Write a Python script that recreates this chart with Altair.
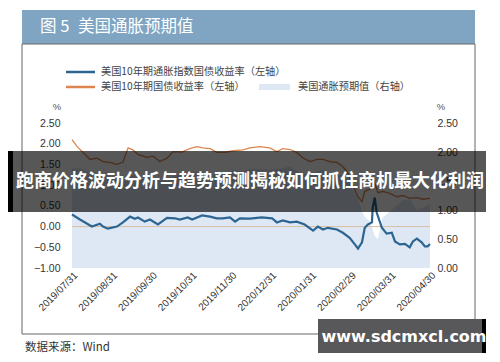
import altair as alt
import pandas as pd

# ---------------- data ----------------
x_labels = ["2019/07/31", "2019/08/31", "2019/09/30", "2019/10/31", "2019/11/30",
            "2020/12/31", "2020/01/31", "2020/02/29", "2020/03/31", "2020/04/30"]

# month index (0 = 2019/07/31 ... 9 = 2020/04/30)
tips_t = [0, 0.2, 0.5, 0.7, 0.78, 0.9, 1.13, 1.28, 1.46, 1.58, 1.66, 1.83, 1.96, 2.16, 2.39,
          2.59, 2.71, 2.91, 3.02, 3.27, 3.47, 3.64, 3.79, 3.97, 4.1, 4.22, 4.47, 4.77, 5.03,
          5.15, 5.3, 5.48, 5.65, 5.85, 6.06, 6.18, 6.31, 6.43, 6.66, 6.81, 6.98, 7.11, 7.19,
          7.29, 7.36, 7.44, 7.54, 7.56, 7.61, 7.66, 7.79, 7.91, 8.04, 8.12, 8.24, 8.37, 8.49,
          8.57, 8.67, 8.79, 8.87, 8.94, 9.0]
tips_v = [0.29, 0.17, 0.0, 0.07, 0.0, -0.05, 0.0, 0.1, 0.24, 0.19, 0.22, 0.12, 0.17, 0.05, 0.21,
          0.2, 0.17, 0.22, 0.17, 0.27, 0.24, 0.2, 0.2, 0.22, 0.12, 0.2, 0.19, 0.22, 0.2,
          0.1, 0.15, 0.1, 0.12, 0.05, -0.1, 0.0, -0.07, -0.03, -0.07, -0.15, -0.27, -0.43, -0.53,
          -0.38, -0.03, 0.05, 0.1, 0.46, 0.7, 0.34, -0.03, -0.17, -0.15, -0.36, -0.43, -0.42, -0.5,
          -0.36, -0.29, -0.38, -0.48, -0.48, -0.42]

nom_t = [0, 0.13, 0.28, 0.45, 0.63, 0.78, 0.95, 1.13, 1.28, 1.41, 1.53, 1.66, 1.88, 2.04, 2.21,
         2.39, 2.54, 2.76, 2.96, 3.14, 3.29, 3.47, 3.64, 3.89, 4.05, 4.3, 4.47, 4.72, 4.97,
         5.15, 5.3, 5.48, 5.65, 5.8, 5.98, 6.16, 6.31, 6.48, 6.66, 6.81, 6.91, 7.06, 7.19,
         7.29, 7.36, 7.49, 7.61, 7.69, 7.81, 7.99, 8.17, 8.32, 8.49, 8.67, 8.82, 9.0]
nom_v = [2.1, 1.93, 1.79, 1.62, 1.65, 1.57, 1.55, 1.5, 1.55, 1.9, 1.85, 1.74, 1.67, 1.7, 1.57,
         1.65, 1.81, 1.8, 1.88, 1.93, 1.9, 1.88, 1.79, 1.8, 1.83, 1.85, 1.9, 1.93, 1.9,
         1.81, 1.88, 1.86, 1.79, 1.66, 1.57, 1.62, 1.62, 1.57, 1.55, 1.45, 1.33, 1.0, 0.72,
         0.6, 0.85, 0.9, 1.05, 0.82, 0.85, 0.8, 0.72, 0.75, 0.68, 0.7, 0.66, 0.68]

be_t = [0, 0.2, 0.5, 0.78, 0.95, 1.13, 1.28, 1.46, 1.66, 1.88, 2.04, 2.21, 2.39, 2.59, 2.76,
        2.96, 3.14, 3.29, 3.47, 3.64, 3.89, 4.05, 4.3, 4.47, 4.72, 4.97, 5.15, 5.3, 5.48,
        5.65, 5.85, 6.06, 6.31, 6.48, 6.66, 6.81, 6.91, 7.06, 7.19, 7.29, 7.36, 7.49, 7.61,
        7.69, 7.81, 7.99, 8.17, 8.32, 8.49, 8.67, 8.82, 9.0]
be_v = [1.72, 1.72, 1.65, 1.57, 1.55, 1.52, 1.48, 1.62, 1.55, 1.52, 1.53, 1.52, 1.5, 1.6, 1.62,
        1.65, 1.67, 1.63, 1.64, 1.6, 1.61, 1.7, 1.67, 1.71, 1.71, 1.7, 1.71, 1.72, 1.76,
        1.67, 1.62, 1.65, 1.69, 1.62, 1.62, 1.6, 1.55, 1.35, 1.22, 0.98, 0.88, 0.8, 0.55,
        0.5, 0.87, 0.97, 1.08, 1.17, 1.18, 1.0, 1.04, 1.1]

title_parts = ["图 5", "美国通胀预期值"]
legend_labels = ["美国10年期通胀指数国债收益率（左轴）", "美国10年期国债收益率（左轴）", "美国通胀预期值（右轴）"]
source_text = "数据来源：Wind"
banner_text = "跑商价格波动分析与趋势预测揭秘如何抓住商机最大化利润"
watermark_text = "www.sdcmxcl.com"

# ---------------- styling ----------------
CJK = "Noto Sans CJK SC"
NUM = "Liberation Sans"
BLUE = "#2d6592"
ORANGE = "#dd8550"
AREA = "#dde8f4"

tips_df = pd.DataFrame({"t": tips_t, "v": tips_v})
nom_df = pd.DataFrame({"t": nom_t, "v": nom_v})
be_df = pd.DataFrame({"t": be_t, "v": be_v})
one = pd.DataFrame({"a": [0]})

label_expr = "[" + ",".join("'%s'" % s for s in x_labels) + "][round(datum.value)]"

xscale = alt.Scale(domain=[0, 9], nice=False, zero=False)
xaxis = alt.Axis(values=list(range(10)), labelExpr=label_expr, labelAngle=-45,
                 labelAlign="right", labelBaseline="top", labelFont=NUM, labelFontSize=10,
                 labelColor="#333", ticks=False, domain=False, grid=False, labelPadding=2,
                 title=None, labelOverlap=False, labelBound=False, labelFlush=False)

left_scale = alt.Scale(domain=[-1, 2.5], nice=False, zero=False)
left_axis = alt.Axis(orient="left", values=[-1, -0.5, 0, 0.5, 1, 1.5, 2, 2.5], format=".2f",
                     labelFont=NUM, labelFontSize=10.5, labelColor="#333", ticks=False,
                     domain=False, grid=False, labelPadding=12, title=None)
right_scale = alt.Scale(domain=[0, 2.5], nice=False, zero=False)
right_axis = alt.Axis(orient="right", values=[0, 0.5, 1, 1.5, 2, 2.5], format=".2f",
                      labelFont=NUM, labelFontSize=10.5, labelColor="#333", ticks=False,
                      domain=False, grid=False, labelPadding=7, title=None)

def rect(x, x2, y, y2, fill, opacity=1.0):
    return alt.Chart(one).mark_rect(fill=fill, opacity=opacity).encode(
        x=alt.value(x), x2=alt.value(x2), y=alt.value(y), y2=alt.value(y2))

def text(x, y, s, size, color, font=CJK, weight="normal", align="left", baseline="middle"):
    return alt.Chart(one).mark_text(text=s, font=font, fontSize=size, color=color,
                                    fontWeight=weight, align=align, baseline=baseline).encode(
        x=alt.value(x), y=alt.value(y))

def hline(x, x2, y, color, w):
    return alt.Chart(one).mark_rule(color=color, strokeWidth=w).encode(
        x=alt.value(x), x2=alt.value(x2), y=alt.value(y))

# header & box
header = rect(-50, 403, -113, -79, "#80a5c3")
title1 = text(-32, -96, title_parts[0], 16.5, "#ffffff")
title2 = text(6, -96, title_parts[1], 16.5, "#ffffff")
box = alt.Chart(one).mark_rect(filled=False, stroke="#666", strokeWidth=1).encode(
    x=alt.value(-50), x2=alt.value(403), y=alt.value(-79), y2=alt.value(211))

# legend
leg1 = hline(-6, 23, -51, BLUE, 2.5)
leg1t = text(29, -51, legend_labels[0], 10.2, "#444")
leg2 = hline(-6, 23, -36, ORANGE, 2.5)
leg2t = text(29, -36, legend_labels[1], 10.2, "#444")
leg3 = rect(187, 218, -39, -33, AREA)
leg3t = text(226, -36, legend_labels[2], 10.2, "#444")
pct_l = text(-15, -16, "%", 9.5, "#555", font=NUM, align="center")
pct_r = text(369, -16, "%", 9.5, "#555", font=NUM, align="center")
source = text(-47, 225, source_text, 11.5, "#333")

# data layers
area = alt.Chart(be_df).mark_area(color=AREA, opacity=1).encode(
    x=alt.X("t:Q", scale=xscale, axis=xaxis),
    y=alt.Y("v:Q", scale=right_scale, axis=right_axis),
)
zero_rule = alt.Chart(one).mark_rule(color="#d9bda3", strokeWidth=1).encode(
    x=alt.value(0), x2=alt.value(358), y=alt.datum(0, scale=left_scale, axis=left_axis))
tips_line = alt.Chart(tips_df).mark_line(color=BLUE, strokeWidth=2.2).encode(
    x=alt.X("t:Q", scale=xscale, axis=xaxis),
    y=alt.Y("v:Q", scale=left_scale, axis=left_axis),
)
nom_line = alt.Chart(nom_df).mark_line(color=ORANGE, strokeWidth=1.3).encode(
    x=alt.X("t:Q", scale=xscale, axis=xaxis),
    y=alt.Y("v:Q", scale=left_scale, axis=left_axis),
)
left_group = alt.layer(zero_rule, tips_line, nom_line)

# overlays
banner = rect(-64, 420, 28, 89, "#000000", 0.66)
banner_l = rect(-64, -59, 28, 89, "#000000")
banner_r = rect(415, 420, 28, 89, "#000000")
banner_t = text(178, 59, banner_text, 18, "#ffffff", weight="bold", align="center")
wm = rect(246, 410, 196, 230, "#58585a")
wm_r = rect(410, 420, 196, 230, "#000000")
wm_t = text(332, 214, watermark_text, 16, "#ffffff", font="DejaVu Sans", weight="bold",
            align="center")

deco_back = alt.layer(header, title1, title2, box, leg1, leg1t, leg2, leg2t, leg3, leg3t,
                      pct_l, pct_r, source)
deco_front = alt.layer(banner, banner_l, banner_r, banner_t, wm, wm_r, wm_t)

chart = alt.layer(area, left_group, deco_back, deco_front).resolve_scale(
    y="independent"
).properties(
    width=358, height=145,
    autosize=alt.AutoSizeParams(type="none"),
    padding={"left": 64, "top": 115, "right": 56, "bottom": 86},
    background="#ffffff",
).configure_view(stroke=None)

chart.save("out.html", embed_options={"renderer": "svg", "actions": False})
